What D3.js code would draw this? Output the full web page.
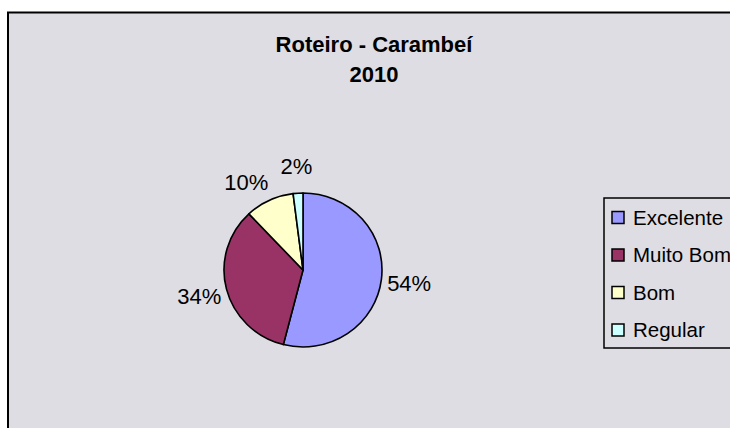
<!DOCTYPE html>
<html>
<head>
<meta charset="utf-8">
<script src="https://cdn.jsdelivr.net/npm/d3@7/dist/d3.min.js"></script>
<style>
  body { margin: 0; background: #fff; }
  text { font-family: "Liberation Sans", Arial, sans-serif; fill: #000; }
</style>
</head>
<body>
<div id="chart-area"></div>
<script>
// data
var categories = ["Excelente", "Muito Bom", "Bom", "Regular"];
var values = [54, 34, 10, 2];
var colors = ["#9999ff", "#993366", "#ffffcc", "#ccffff"];
var titleLines = ["Roteiro - Carambeí", "2010"];

var width = 730, height = 428;

var svg = d3.select("#chart-area")
	.append("svg")
		.attr("width", width)
		.attr("height", height);

// chart area
svg.append("rect")
	.attr("x", 8)
	.attr("y", 12.5)
	.attr("width", 800)
	.attr("height", 500)
	.attr("fill", "#dedde3")
	.attr("stroke", "#000")
	.attr("stroke-width", 2);

// title
svg.append("g").selectAll("text")
	.data(titleLines)
	.enter()
	.append("text")
		.attr("x", 374)
		.attr("y", (d, i) => 52 + i * 30)
		.attr("text-anchor", "middle")
		.attr("font-size", "22px")
		.attr("font-weight", "bold")
		.text(d => d);

// pie
var cx = 303, cy = 270, r = 79, squash = 77 / 79;

var pie = d3.pie()
	.sort(null)
	.value(d => d);

var arcs = pie(values);

var arc = d3.arc()
	.innerRadius(0)
	.outerRadius(r);

var labelArc = d3.arc()
	.innerRadius(107)
	.outerRadius(107);

var total = d3.sum(values);

var g = svg.append("g")
	.attr("transform", "translate(" + cx + "," + cy + ")");

g.append("g")
	.attr("transform", "scale(1," + squash + ")")
	.selectAll("path")
	.data(arcs)
	.enter()
	.append("path")
		.attr("d", arc)
		.attr("fill", (d, i) => colors[i])
		.attr("stroke", "#000")
		.attr("stroke-width", 1.6)
		.attr("stroke-linejoin", "round");

var labels = g.selectAll(".lbl")
	.data(arcs)
	.enter()
	.append("text")
		.attr("class", "lbl")
		.attr("x", d => labelArc.centroid(d)[0])
		.attr("y", d => labelArc.centroid(d)[1] * squash)
		.attr("dy", "0.36em")
		.attr("text-anchor", "middle")
		.attr("font-size", "22px")
		.text(d => Math.round(d.value / total * 100) + "%");

// push overlapping labels apart (going backwards from the last slice)
var nodes = labels.nodes();
for (var i = nodes.length - 2; i >= 0; i--) {
	var a = nodes[i].getBBox(), b = nodes[i + 1].getBBox();
	var overlapY = a.y < b.y + b.height && b.y < a.y + a.height;
	if (overlapY && a.x + a.width > b.x - 12 && a.x < b.x) {
		var shift = a.x + a.width - (b.x - 12);
		d3.select(nodes[i])
			.attr("x", +d3.select(nodes[i]).attr("x") - shift)
			.attr("y", +d3.select(nodes[i]).attr("y") + 6);
	}
}

// legend
var legend = svg.append("g")
	.attr("transform", "translate(604,198)");

legend.append("rect")
	.attr("x", 0)
	.attr("y", 0)
	.attr("width", 200)
	.attr("height", 150)
	.attr("fill", "none")
	.attr("stroke", "#000")
	.attr("stroke-width", 1.5);

var items = legend.selectAll(".item")
	.data(categories)
	.enter()
	.append("g")
		.attr("class", "item")
		.attr("transform", (d, i) => "translate(0," + (19.5 + i * 37.5) + ")");

items.append("rect")
	.attr("x", 8)
	.attr("y", -6)
	.attr("width", 12)
	.attr("height", 12)
	.attr("fill", (d, i) => colors[i])
	.attr("stroke", "#000")
	.attr("stroke-width", 1.5);

items.append("text")
	.attr("x", 29)
	.attr("y", 0)
	.attr("dy", "0.36em")
	.attr("font-size", "20.5px")
	.text(d => d);
</script>
</body>
</html>
